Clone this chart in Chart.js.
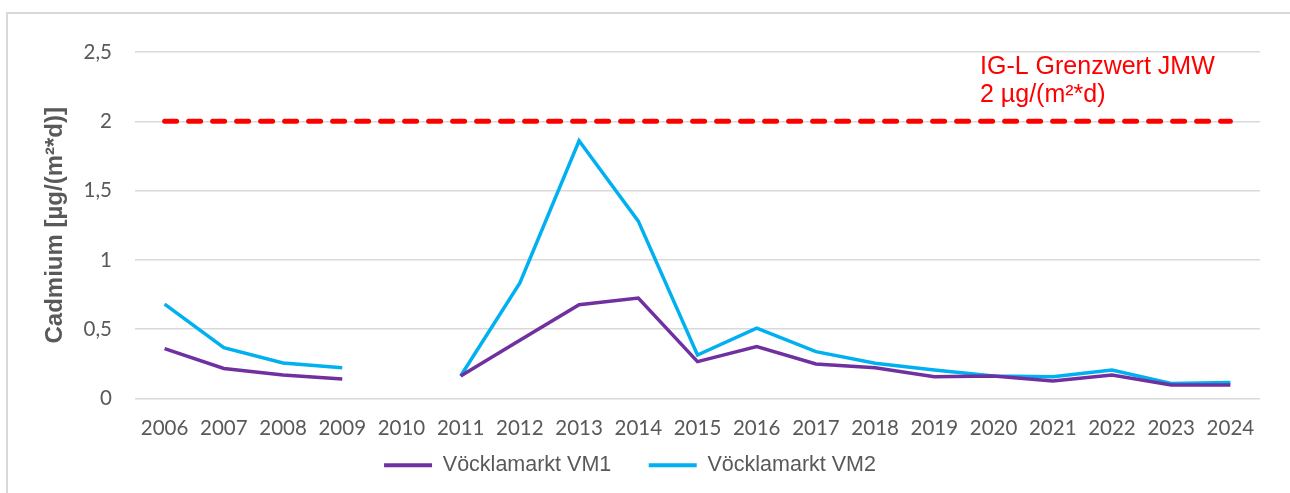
<!DOCTYPE html>
<html>
<head>
<meta charset="utf-8">
<script src="https://cdn.jsdelivr.net/npm/chart.js"></script>
<style>
  html, body { margin: 0; padding: 0; background: #fff; }
  #wrap { position: relative; width: 1290px; height: 493px; overflow: hidden; }
  #frame { position: absolute; left: 6px; top: 12px; width: 1300px; height: 500px;
           border-left: 2px solid #d9d9d9; border-top: 2px solid #d9d9d9; }
  canvas { position: absolute; left: 0; top: 0; }
</style>
</head>
<body>
<div id="wrap">
  <div id="frame"></div>
  <canvas id="cadmiumChart" width="1290" height="493"></canvas>
</div>
<script>
// Data
const years = ['2006', '2007', '2008', '2009', '2010', '2011', '2012', '2013', '2014', '2015',
               '2016', '2017', '2018', '2019', '2020', '2021', '2022', '2023', '2024'];
const vm1 = [0.36, 0.217, 0.17, 0.14, null, 0.162, 0.42, 0.677, 0.725, 0.266,
             0.375, 0.249, 0.222, 0.157, 0.162, 0.126, 0.17, 0.097, 0.097];
const vm2 = [0.681, 0.367, 0.256, 0.222, null, 0.162, 0.833, 1.86, 1.28, 0.314,
             0.507, 0.338, 0.254, 0.206, 0.162, 0.157, 0.206, 0.109, 0.116];
const limitValues = [2, 2, 2, 2, 2, 2, 2, 2, 2, 2, 2, 2, 2, 2, 2, 2, 2, 2, 2];
const yTicks = [0, 0.5, 1, 1.5, 2, 2.5];
const limitLabel = ['IG-L Grenzwert JMW', '2 µg/(m²*d)'];

// Label for the limit line
const limitText = {
    id: 'limitText',
    afterDatasetsDraw(chart) {
        const ctx = chart.ctx;
        ctx.save();
        ctx.fillStyle = '#FF0000';
        ctx.font = '25px "Liberation Sans", Arial, sans-serif';
        ctx.textBaseline = 'middle';
        ctx.textAlign = 'left';
        ctx.fillText(limitLabel[0], 980, 67);
        ctx.fillText(limitLabel[1], 980, 95);
        ctx.restore();
    }
};

const ctx = document.getElementById('cadmiumChart').getContext('2d');
const chart = new Chart(ctx, {
    type: 'line',
    data: {
        labels: years,
        datasets: [
            {
                label: 'Vöcklamarkt VM1',
                data: vm1,
                borderColor: '#7030A0',
                backgroundColor: '#7030A0',
                borderWidth: 3.5,
                pointRadius: 0,
                tension: 0,
                spanGaps: false
            },
            {
                label: 'Vöcklamarkt VM2',
                data: vm2,
                borderColor: '#00B0F0',
                backgroundColor: '#00B0F0',
                borderWidth: 3.5,
                pointRadius: 0,
                tension: 0,
                spanGaps: false
            },
            {
                label: 'Grenzwert',
                data: limitValues,
                borderColor: '#FF0000',
                backgroundColor: '#FF0000',
                borderWidth: 5,
                borderDash: [12, 12],
                borderCapStyle: 'round',
                pointRadius: 0
            }
        ]
    },
    options: {
        responsive: false,
        animation: false,
        layout: { padding: { left: 0, right: 30, top: 52, bottom: 7 } },
        plugins: {
            tooltip: { enabled: false },
            legend: {
                position: 'bottom',
                labels: {
                    boxWidth: 48,
                    boxHeight: 4,
                    padding: 10,
                    color: '#595959',
                    font: { family: '"Liberation Sans", Arial, sans-serif', size: 21.5 },
                    filter: (item) => item.datasetIndex < 2,
                    // first entry gets trailing space so the gap between entries is wider
                    generateLabels: (c) => Chart.defaults.plugins.legend.labels.generateLabels(c)
                        .map((l, i) => Object.assign(l, {
                            lineWidth: 0, lineDash: [],
                            text: i === 0 ? l.text + '\u2003 ' : l.text
                        }))
                }
            }
        },
        scales: {
            x: {
                offset: true,
                grid: { display: false, drawTicks: false },
                border: { display: false },
                ticks: {
                    color: '#595959',
                    padding: 18,
                    maxRotation: 0,
                    autoSkip: false,
                    font: { family: 'Lato, "Open Sans", sans-serif', size: 20.5 }
                },
                afterFit: (s) => { s.height = 46; }
            },
            y: {
                min: 0,
                max: 2.5,
                afterBuildTicks: (s) => { s.ticks = yTicks.map(v => ({ value: v })); },
                grid: { color: '#d9d9d9', lineWidth: 1.5, drawTicks: false },
                border: { display: false },
                ticks: {
                    color: '#595959',
                    padding: 23,
                    font: { family: 'Lato, "Open Sans", sans-serif', size: 20.5 },
                    callback: (v) => String(v).replace('.', ',')
                },
                title: {
                    display: true,
                    text: 'Cadmium [µg/(m²*d)]',
                    color: '#595959',
                    padding: { top: 41, bottom: 0 },
                    font: { family: '"Liberation Sans", Arial, sans-serif', size: 24, weight: 'bold' }
                },
                afterFit: (s) => { s.width = 135; }
            }
        }
    },
    plugins: [limitText]
});
</script>
</body>
</html>
